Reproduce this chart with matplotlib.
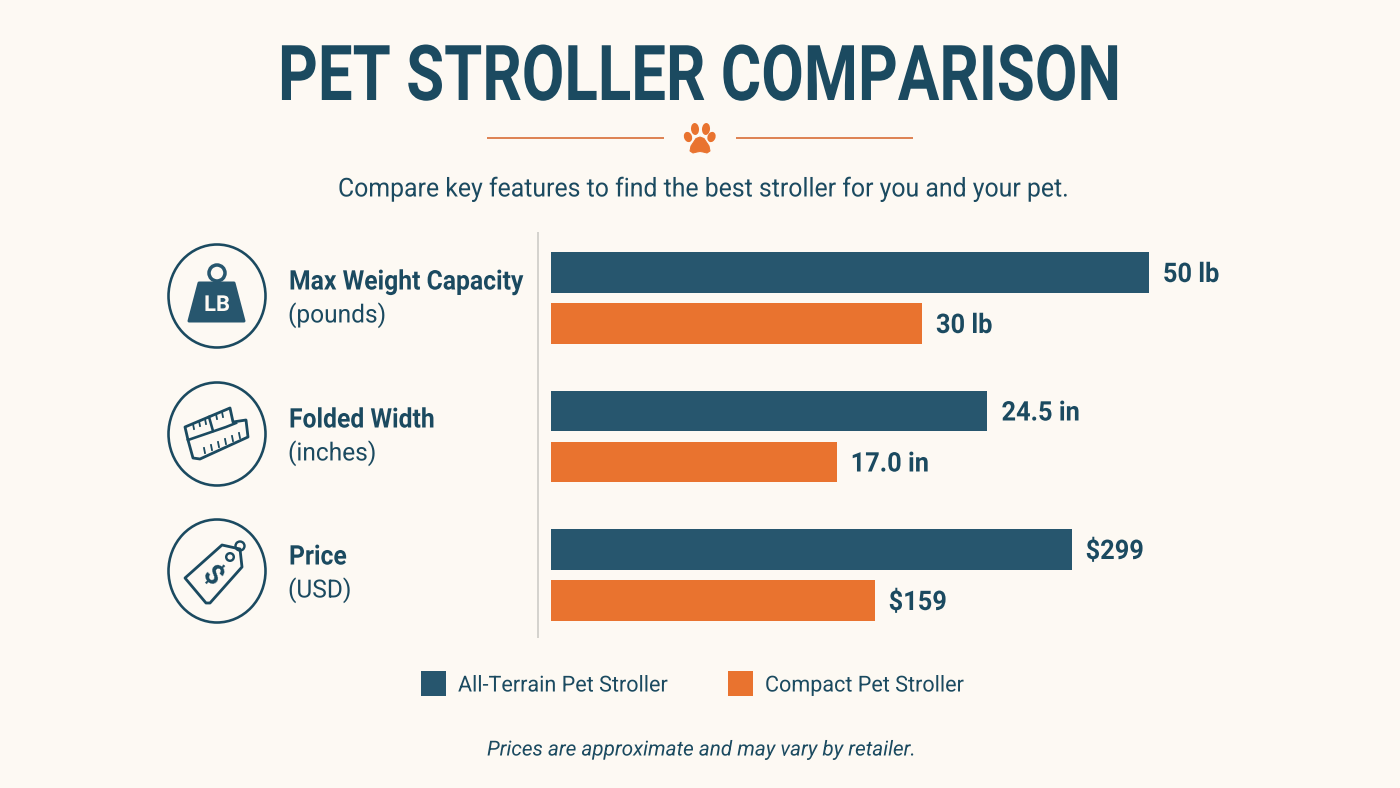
import matplotlib
matplotlib.use("Agg")
import matplotlib.pyplot as plt
from matplotlib.patches import Ellipse, Polygon, Rectangle, Circle
from matplotlib.patheffects import AbstractPathEffect
from matplotlib.transforms import Affine2D

# Chart data
metrics = ["Max Weight Capacity", "Folded Width", "Price"]
units = ["(pounds)", "(inches)", "(USD)"]
series = ["All-Terrain Pet Stroller", "Compact Pet Stroller"]
all_terrain = [50, 24.5, 299]
compact = [30, 17.0, 159]
all_terrain_labels = ["50 lb", "24.5 in", "$299"]
compact_labels = ["30 lb", "17.0 in", "$159"]

# every metric has its own x scale
xlims = [(-2.7, 59.0), (2.8, 37.6), (-71.0, 426.5)]
band_tops = [247, 385.5, 524]

NAVY = "#27566E"
ORANGE = "#E9732F"
INK = "#1B4A60"
BG = "#FDF9F3"
FONT = ["Roboto", "DejaVu Sans"]


class Squeeze(AbstractPathEffect):
    """Narrows glyphs horizontally, anchored at the text origin."""

    def __init__(self, sx):
        super().__init__()
        self.sx = sx

    def draw_path(self, renderer, gc, tpath, affine, rgbFace=None):
        renderer.draw_path(gc, tpath, Affine2D().scale(self.sx, 1) + affine, rgbFace)


fig = plt.figure(figsize=(14, 7.88), dpi=100, facecolor=BG)

# full-figure layer in pixel coordinates for headings and icons
bg = fig.add_axes([0, 0, 1, 1])
bg.set_xlim(0, 1400)
bg.set_ylim(788, 0)
bg.axis("off")


def px(v):
    return v * 0.72


def label(x, y, s, size, sx=1.0, weight="normal", style="normal", color=INK, ha="left"):
    return bg.text(x, y, s, ha=ha, va="center", color=color, fontsize=px(size), fontweight=weight,
                   style=style, family=FONT, path_effects=[Squeeze(sx)])


label(278, 79, "PET STROLLER COMPARISON", 77, sx=0.802, weight="bold")
label(338, 189, "Compare key features to find the best stroller for you and your pet.", 26, sx=0.955)
label(487, 750, "Prices are approximate and may vary by retailer.", 20.7, style="italic")

# divider with paw
bg.plot([488, 663], [138, 138], color="#DE8455", lw=px(2))
bg.plot([737, 912], [138, 138], color="#DE8455", lw=px(2))
bg.add_patch(Polygon([(700, 137), (704, 138.5), (709, 146), (710, 151), (707, 153), (703, 152),
                      (700, 151.5), (697, 152), (693, 153), (690, 151), (691, 146), (696, 138.5)],
                     closed=True, fc=ORANGE, ec=ORANGE, lw=px(1), joinstyle="round"))
for cx, cy, w, h, ang in [(688, 137, 8, 10.5, -20), (695, 129, 8, 12, -5),
                          (706, 129, 8, 12, 5), (711.5, 137, 8, 10.5, 20)]:
    bg.add_patch(Ellipse((cx, cy), w, h, angle=ang, color=ORANGE, lw=0))

# axis rule between labels and bars
bg.plot([538, 538], [233, 637], color="#D5D3CE", lw=px(2))

# metric labels and icon rings
for i, cy in enumerate([296, 434, 571]):
    bg.add_patch(Ellipse((217, cy), 97, 103, fill=False, ec=INK, lw=px(2.6)))
    label(289, cy - 14, metrics[i], 27, sx=0.915, weight="bold")
    label(288, cy + 19, units[i], 25, sx=0.98)

# weight icon
bg.add_patch(Circle((217, 273), 8, fill=False, ec=NAVY, lw=px(3.5)))
bg.add_patch(Polygon([(199, 283), (234, 283), (244, 321), (189, 321)],
                     closed=True, fc=NAVY, ec=NAVY, lw=px(3), joinstyle="round"))
label(217, 305, "LB", 22, weight="bold", color=BG, ha="center")

# folded tape measure icon
tape_style = dict(fill=False, ec=INK, lw=px(2.8), joinstyle="round")
bg.add_patch(Polygon([(185, 427), (230, 408), (233, 422), (246, 420), (248, 437),
                      (200, 459), (193, 458), (188, 440)], **tape_style))
bg.plot([188, 226, 236], [440, 427, 423], color=INK, lw=px(2.6))
bg.plot([209, 213], [417, 431], color=INK, lw=px(2.6))
for x, y in [(193, 424), (199, 421), (205, 419), (216, 414), (222, 412)]:
    bg.plot([x, x + 1], [y, y + 5], color=INK, lw=px(1.8))
for x, y in [(205, 453), (212, 450), (219, 447), (226, 444), (233, 441), (240, 438)]:
    bg.plot([x, x - 1], [y, y - 5], color=INK, lw=px(1.8))

# price tag icon
bg.add_patch(Polygon([(185, 578), (222, 545), (240, 549), (242, 567), (210, 603), (206, 603)],
                     closed=True, **tape_style))
bg.add_patch(Circle((230, 557), 3.8, fill=False, ec=INK, lw=px(2.4)))
bg.add_patch(Circle((240, 546), 4.5, fill=False, ec=INK, lw=px(2.4)))
bg.text(212, 576, "$", rotation=-45, ha="center", va="center", rotation_mode="anchor", color=INK,
        fontsize=px(28), fontweight="bold", family=FONT)

# bars, one small axes per metric
for i, top in enumerate(band_tops):
    ax = fig.add_axes([551 / 1400, 1 - (top + 102) / 788, 700 / 1400, 102 / 788])
    ax.patch.set_alpha(0)
    base = xlims[i][0]
    vals = [all_terrain[i], compact[i]]
    texts = [all_terrain_labels[i], compact_labels[i]]
    ax.barh([0, 1], [v - base for v in vals], left=base, height=0.8, color=[NAVY, ORANGE])
    for y, v, t in zip([0, 1], vals, texts):
        ann = ax.annotate(t, (v, y), xytext=(px(14), px(-2)), textcoords="offset points", va="center",
                          color=INK, fontsize=px(27), fontweight="bold", family=FONT)
        ann.set_path_effects([Squeeze(0.94)])
    ax.set_xlim(*xlims[i])
    ax.set_ylim(1.5, -0.5)
    ax.axis("off")

# legend
for x, name, col in [(421, series[0], NAVY), (728, series[1], ORANGE)]:
    bg.add_patch(Rectangle((x, 671), 24.5, 25, color=col, lw=0))
    label(x + 37, 686, name, 22, sx=0.98)

fig.savefig("out.png", dpi=100, facecolor=BG)
